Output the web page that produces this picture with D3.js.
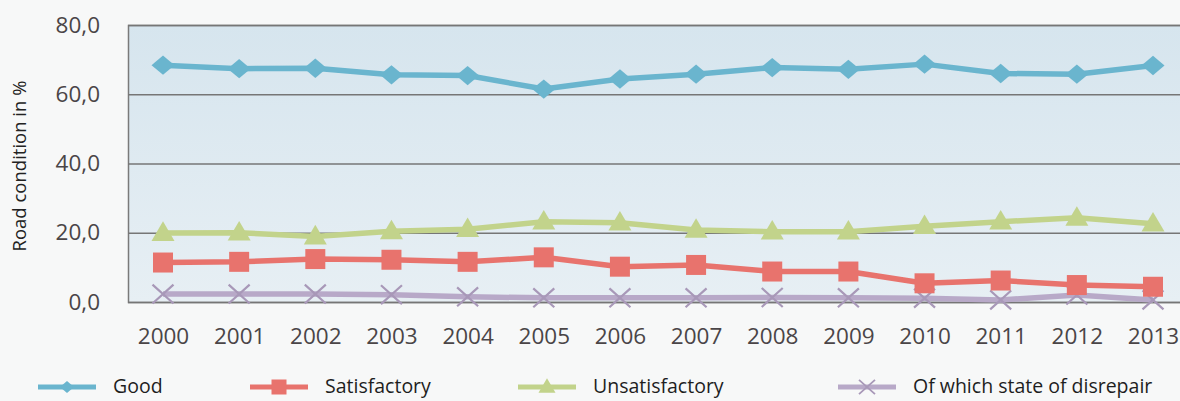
<!DOCTYPE html>
<html>
<head>
<meta charset="utf-8">
<script src="https://cdn.jsdelivr.net/npm/d3@7/dist/d3.min.js"></script>
<style>
  html, body { margin: 0; padding: 0; background: #f7f8f8; }
  svg { display: block; font-family: "Open Sans", "Noto Sans", sans-serif; }
</style>
</head>
<body>
<svg id="chart" width="1180" height="401"></svg>
<script>
// Road condition shares, 2000–2013 (percent)
const years = ["2000","2001","2002","2003","2004","2005","2006","2007","2008","2009","2010","2011","2012","2013"];
const good = [68.4, 67.4, 67.5, 65.6, 65.4, 61.5, 64.4, 65.8, 67.7, 67.2, 68.7, 66.0, 65.8, 68.3];
const satisfactory = [11.4, 11.6, 12.4, 12.2, 11.6, 12.9, 10.2, 10.7, 8.8, 8.8, 5.4, 6.2, 4.9, 4.4];
const unsatisfactory = [19.9, 20.0, 18.9, 20.4, 21.0, 23.2, 22.9, 20.8, 20.3, 20.3, 21.9, 23.2, 24.3, 22.6];
const disrepair = [2.3, 2.3, 2.3, 2.1, 1.5, 1.2, 1.2, 1.2, 1.3, 1.2, 1.1, 0.6, 2.0, 0.6];
const yTicks = [0, 20, 40, 60, 80];
const seriesNames = ["Good", "Satisfactory", "Unsatisfactory", "Of which state of disrepair"];

const FONT = '"Open Sans", "Noto Sans", sans-serif';
const svg = d3.select("#chart");
const W = 1180;
const plot = { left: 128, top: 25, bottom: 302 };

const x = d3.scalePoint().domain(years).range([163, 1153]);
const y = d3.scaleLinear().domain([0, 80]).range([plot.bottom, plot.top]);

// background gradient of the plotting area
const defs = svg.append("defs");
const grad = defs.append("linearGradient").attr("id", "bg").attr("x1", 0).attr("y1", 0).attr("x2", 0).attr("y2", 1);
grad.append("stop").attr("offset", "0%").attr("stop-color", "#d6e5ee");
grad.append("stop").attr("offset", "100%").attr("stop-color", "#e7eff4");

svg.append("rect")
  .attr("x", plot.left).attr("y", plot.top)
  .attr("width", W - plot.left).attr("height", plot.bottom - plot.top)
  .attr("fill", "url(#bg)");

// horizontal gridlines and y axis
const yAxis = d3.axisLeft(y).tickValues(yTicks)
  .tickFormat(d => d3.format(".1f")(d).replace(".", ","))
  .tickSize(-(W - plot.left)).tickPadding(28);
const gy = svg.append("g").attr("transform", `translate(${plot.left},0)`).call(yAxis)
  .attr("font-family", FONT);
gy.select(".domain").attr("stroke", "#7a7a7a").attr("stroke-width", 1.5);
gy.selectAll(".tick line").attr("stroke", "#767676").attr("stroke-width", 1.6);
gy.selectAll(".tick text").attr("fill", "#4a4547").attr("font-size", 22.5);

// x axis labels
const xAxis = d3.axisBottom(x).tickSize(0).tickPadding(26);
const gx = svg.append("g").attr("transform", `translate(0,${plot.bottom})`).call(xAxis)
  .attr("font-family", FONT);
gx.select(".domain").remove();
gx.selectAll(".tick text").attr("fill", "#4a4547").attr("font-size", 22.5);

// y axis title
svg.append("text")
  .attr("transform", "translate(26,166) rotate(-90)")
  .attr("text-anchor", "middle")
  .attr("font-size", 18.5)
  .attr("fill", "#222")
  .text("Road condition in %");

// marker shapes
const wideDiamond = {
  draw(ctx, s) {
    const w = s / 2, h = s * 0.42;
    ctx.moveTo(0, -h); ctx.lineTo(w, 0); ctx.lineTo(0, h); ctx.lineTo(-w, 0); ctx.closePath();
  }
};
const squareShape = {
  draw(ctx, s) { const h = s / 2; ctx.rect(-h, -h, s, s); }
};
const triShape = {
  draw(ctx, s) {
    const w = s / 2, h = s * 0.85;
    ctx.moveTo(0, -h * 0.6); ctx.lineTo(w, h * 0.4); ctx.lineTo(-w, h * 0.4); ctx.closePath();
  }
};
const crossShape = {
  draw(ctx, s) {
    const w = s / 2, h = s * 0.45;
    ctx.moveTo(-w, -h); ctx.lineTo(w, h); ctx.moveTo(w, -h); ctx.lineTo(-w, h);
  }
};

const series = [
  { name: seriesNames[0], values: good, color: "#6ab5ce", shape: wideDiamond, size: 23, stroke: false, legendSize: 14 },
  { name: seriesNames[1], values: satisfactory, color: "#e8736d", shape: squareShape, size: 20, stroke: false, legendSize: 15 },
  { name: seriesNames[2], values: unsatisfactory, color: "#c2d38b", shape: triShape, size: 23, stroke: false, legendSize: 17 },
  { name: seriesNames[3], values: disrepair, color: "#b8a9c8", shape: crossShape, size: 21, stroke: true, legendSize: 16 }
];

const line = d3.line().x((d, i) => x(years[i])).y(d => y(d));

// draw from bottom series to top so Good ends up on top
[...series].reverse().forEach(s => {
  const g = svg.append("g");
  g.append("path")
    .attr("d", line(s.values))
    .attr("fill", "none")
    .attr("stroke", s.color)
    .attr("stroke-width", 5.5)
    .attr("stroke-linejoin", "round");
  g.selectAll("path.m").data(s.values).join("path")
    .attr("class", "m")
    .attr("transform", (d, i) => `translate(${x(years[i])},${y(d)})`)
    .attr("d", d3.symbol(s.shape, s.size))
    .attr("fill", s.stroke ? "none" : s.color)
    .attr("stroke", s.stroke ? "#a898b8" : "none")
    .attr("stroke-width", s.stroke ? 2.2 : 0);
});

// legend
const legendX = [38, 250, 518, 838];
const legendY = 387;
series.forEach((s, i) => {
  const g = svg.append("g").attr("transform", `translate(${legendX[i]},${legendY})`);
  g.append("line").attr("x1", 0).attr("x2", 58).attr("y1", 0).attr("y2", 0)
    .attr("stroke", s.color).attr("stroke-width", 5);
  g.append("path").attr("transform", "translate(29,0)")
    .attr("d", d3.symbol(s.shape, s.legendSize))
    .attr("fill", s.stroke ? "none" : s.color)
    .attr("stroke", s.stroke ? "#a898b8" : "none")
    .attr("stroke-width", s.stroke ? 1.8 : 0);
  g.append("text").attr("x", 75).attr("y", 6)
    .attr("font-size", 19.5).attr("fill", "#1e1e1e")
    .attr("font-family", FONT)
    .text(s.name);
});
</script>
</body>
</html>
